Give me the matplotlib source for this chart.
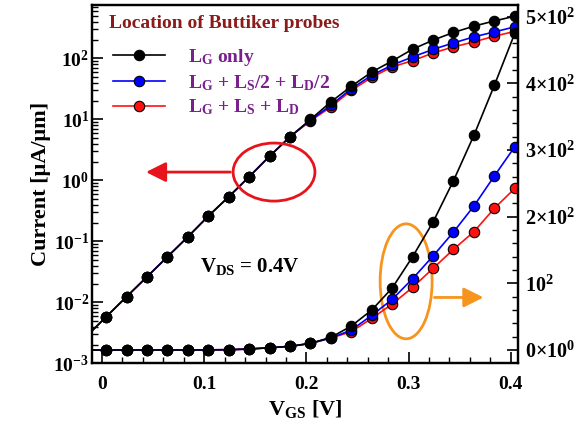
import matplotlib
matplotlib.use("Agg")
import matplotlib.pyplot as plt
from matplotlib.patches import Ellipse
from matplotlib.lines import Line2D
import numpy as np

plt.rcParams.update({
    "font.family": "Liberation Serif", "font.weight": "bold",
    "axes.labelweight": "bold",
    "mathtext.fontset": "custom",
    "mathtext.rm": "Liberation Serif:bold",
    "mathtext.bf": "Liberation Serif:bold",
    "mathtext.it": "Liberation Serif:bold",
    "axes.linewidth": 1.6,
})

# gate voltage (first point lies just left of the visible range)
vgs = [-0.016, 0.004, 0.024, 0.044, 0.064, 0.084, 0.104, 0.124, 0.144, 0.164, 0.184,
       0.204, 0.224, 0.244, 0.264, 0.284, 0.304, 0.324, 0.344, 0.364, 0.384, 0.404]

# current on the log (left) axis, uA/um
log_lg = [2.7e-3, 5.8e-3, 1.24e-2, 2.63e-2, 5.6e-2, 0.119, 0.26, 0.54, 1.15, 2.5, 5.2,
          10.0, 19.4, 35, 60, 91, 142, 200, 267, 339, 413, 493]
log_half = [2.7e-3, 5.8e-3, 1.24e-2, 2.63e-2, 5.6e-2, 0.119, 0.26, 0.54, 1.15, 2.5, 5.2,
            9.7, 17.1, 32, 53, 78, 106, 141, 180, 226, 273, 330]
log_full = [2.7e-3, 5.8e-3, 1.24e-2, 2.63e-2, 5.6e-2, 0.119, 0.26, 0.54, 1.15, 2.5, 5.2,
            9.5, 16, 30, 49, 73, 92, 123, 155, 187, 232, 278]

# current on the linear (right) axis, uA/um
lin_lg = [0, 0.01, 0.01, 0.03, 0.06, 0.12, 0.26, 0.54, 1.5, 3.5, 5.5,
          10, 19, 36, 60, 93, 140, 192, 254, 322, 397, 475]
lin_half = [0, 0.01, 0.01, 0.03, 0.06, 0.12, 0.26, 0.54, 1.5, 3.5, 5.5,
            10, 18, 30, 52, 76, 107, 141, 177, 216, 261, 305]
lin_full = [0, 0.01, 0.01, 0.03, 0.06, 0.12, 0.26, 0.54, 1.5, 3.5, 5.5,
            10, 18, 27.5, 47.5, 69, 94, 122.5, 151, 177.5, 212.5, 242.5]

labels = [r"$\mathrm{L_G}$ only",
          r"$\mathrm{L_G}$ + $\mathrm{L_S}$/2 + $\mathrm{L_D}$/2",
          r"$\mathrm{L_G}$ + $\mathrm{L_S}$ + $\mathrm{L_D}$"]
colors = ["black", "#0000ff", "#ff1010"]

fig = plt.figure(figsize=(5.79, 4.28), dpi=100)
ax = fig.add_axes([0.159, 0.151, 0.736, 0.837])
ax2 = ax.twinx()

sty = dict(marker="o", ms=7.5, mec="black", mew=0.8, lw=1.2)
for logy, liny, c in zip([log_full, log_half, log_lg], [lin_full, lin_half, lin_lg], colors[::-1]):
    ax.plot(vgs, logy, color=c, mfc=c, **sty)
    ax2.plot(vgs, liny, color=c, mfc=c, **sty)

ax.set_yscale("log")
ax.set_xlim(-0.0098, 0.4074)
ax.set_ylim(1e-3, 7.5e2)
ax2.set_ylim(-20, 517.5)

ax.set_xticks([0, 0.1, 0.2, 0.3, 0.4], ["0", "0.1", "0.2", "0.3", "0.4"])
ax.set_xticks(np.arange(0, 0.41, 0.02), minor=True)
ax.set_yticks([1e-3, 1e-2, 1e-1, 1, 10, 100],
              [r"$\mathrm{10^{-3}}$", r"$\mathrm{10^{-2}}$", r"$\mathrm{10^{-1}}$",
               r"$\mathrm{10^{0}}$", r"$\mathrm{10^{1}}$", r"$\mathrm{10^{2}}$"])
ax.yaxis.set_minor_locator(matplotlib.ticker.LogLocator(base=10, subs=np.arange(2, 10), numticks=20))
ax.yaxis.set_minor_formatter(matplotlib.ticker.NullFormatter())
ax2.set_yticks([0, 100, 200, 300, 400, 500],
               [r"$\mathrm{0{\times}10^{0}}$", r"$\mathrm{10^{2}}$", r"$\mathrm{2{\times}10^{2}}$",
                r"$\mathrm{3{\times}10^{2}}$", r"$\mathrm{4{\times}10^{2}}$", r"$\mathrm{5{\times}10^{2}}$"])
ax2.set_yticks(np.arange(0, 501, 20), minor=True)

ax.tick_params(which="both", direction="in", labelsize=14)
ax.tick_params(which="major", length=8, width=1.2)
ax.tick_params(which="minor", length=4.5, width=1.0)
ax.tick_params(axis="y", pad=2)
ax.tick_params(axis="x", pad=9)
ax2.tick_params(which="both", direction="in", labelsize=14.5, pad=5)
ax2.tick_params(which="major", length=8, width=1.2)
ax2.tick_params(which="minor", length=4.5, width=1.0)

ax.set_xlabel(r"$\mathrm{V_{GS}}$ [V]", fontsize=16, labelpad=4)
ax.set_ylabel("Current [μA/μm]", fontsize=16, labelpad=2)

ax.text(0.04, 0.95, "Location of Buttiker probes", transform=ax.transAxes,
        color="#8b1a1a", fontsize=14, ha="left", va="center")
ax.text(0.253, 0.27, r"$\mathrm{V_{DS}}$ = 0.4V", transform=ax.transAxes,
        fontsize=15, ha="left", va="center")

handles = [Line2D([], [], color=c, mfc=c, **sty) for c in colors]
ax2.legend(handles, labels, loc="upper left", bbox_to_anchor=(0.03, 0.905), frameon=False,
           fontsize=14, labelcolor="#7b1f8f", handlelength=2.7, handletextpad=1.2,
           labelspacing=0.25, borderaxespad=0)

ax2.add_patch(Ellipse((0.427, 0.534), 0.192, 0.162, transform=ax.transAxes,
                      fill=False, ec="#e8141c", lw=2))
ax2.annotate("", xy=(0.12, 0.534), xytext=(0.331, 0.534), xycoords="axes fraction",
             arrowprops=dict(arrowstyle="-|>", color="#e8141c", lw=2, mutation_scale=30))
ax2.add_patch(Ellipse((0.737, 0.229), 0.122, 0.321, transform=ax.transAxes,
                      fill=False, ec="#f7941d", lw=2))
ax2.annotate("", xy=(0.925, 0.184), xytext=(0.797, 0.184), xycoords="axes fraction",
             arrowprops=dict(arrowstyle="-|>", color="#f7941d", lw=2, mutation_scale=30))

fig.savefig("out.png", dpi=100)
